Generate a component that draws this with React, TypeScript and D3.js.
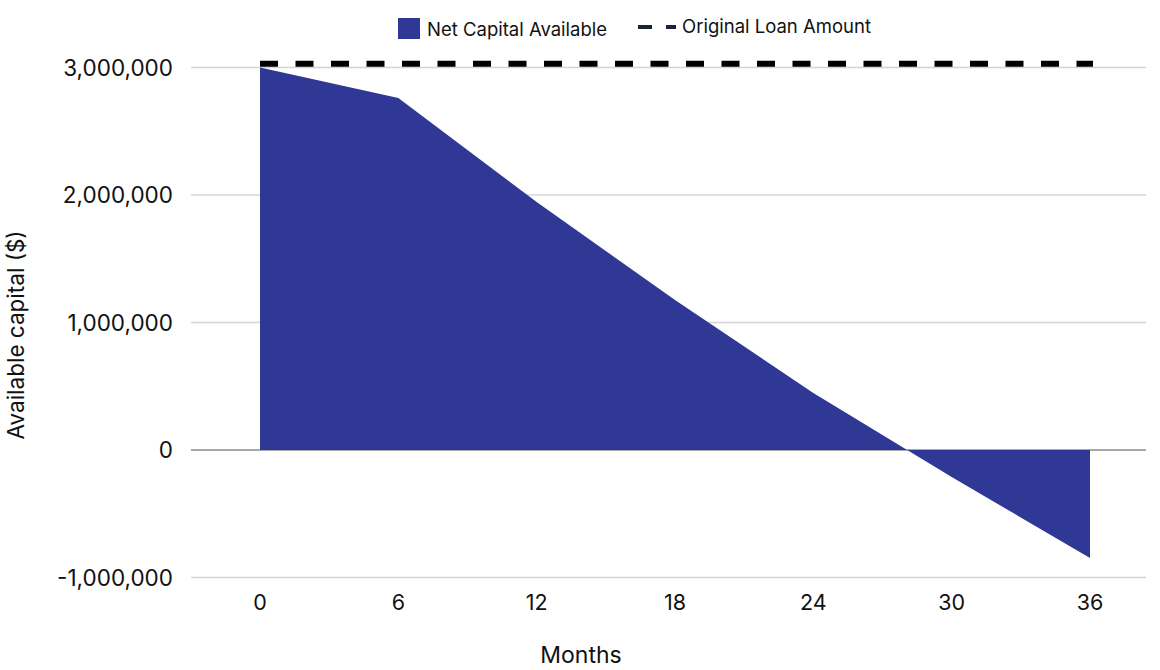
import { useEffect } from 'react'
import * as d3 from 'd3'

// Data
const months = [0, 6, 12, 18, 24, 30, 36]
const netCapital = [3000000, 2760000, 1945000, 1176000, 447000, -212000, -847000]
const originalLoan = 3030000
const xTicks = [0, 6, 12, 18, 24, 30, 36]
const yTicks = [-1000000, 0, 1000000, 2000000, 3000000]

const FONT = 'Inter, "Noto Sans", sans-serif'
const AREA_COLOR = '#303896'

const W = 1160
const H = 670

export default function App() {
  useEffect(() => {
    document.body.style.margin = '0'
  }, [])

  const x = d3.scaleLinear().domain([0, 36]).range([260, 1090])
  const y = d3.scaleLinear().domain([-1000000, 3000000]).range([577.5, 67.5])

  const pts = months.map((m, i) => ({ m, v: netCapital[i] }))

  const area = d3.area<{ m: number; v: number }>()
    .x(d => x(d.m))
    .y0(y(0))
    .y1(d => y(d.v))

  // plain hyphen for negatives, like the reference
  const fmt = (v: number) => d3.format(',')(v).replace('\u2212', '-')
  const gridLeft = 191
  const gridRight = 1146

  return (
    <svg width={W} height={H} style={{ display: 'block', fontFamily: FONT }}>
      {/* gridlines */}
      {yTicks.map(t => (
        <line key={t}
          x1={gridLeft} x2={gridRight}
          y1={y(t)} y2={y(t)}
          stroke={t === 0 ? '#8a8a8a' : '#d4d4d4'}
          strokeWidth={1.5}
        />
      ))}

      {/* area */}
      <path d={area(pts) || ''} fill={AREA_COLOR} />

      {/* original loan amount */}
      <line
        x1={x(0)} x2={x(36) + 3}
        y1={y(originalLoan)} y2={y(originalLoan)}
        stroke="#000" strokeWidth={6}
        strokeDasharray="18 17.5"
      />

      {/* y tick labels */}
      {yTicks.map(t => (
        <text key={t} x={173} y={y(t)} dy="0.36em"
          textAnchor="end" fontSize={22.5} fill="#111">
          {fmt(t)}
        </text>
      ))}

      {/* x tick labels */}
      {xTicks.map(t => (
        <text key={t} x={x(t)} y={610}
          textAnchor="middle" fontSize={21.5} fill="#111">
          {t}
        </text>
      ))}

      {/* axis titles */}
      <text x={581} y={663} textAnchor="middle" fontSize={23} fill="#111">Months</text>
      <text transform="translate(24,335) rotate(-90)" textAnchor="middle" fontSize={22.5} fill="#111">
        Available capital ($)
      </text>

      {/* legend */}
      <rect x={398} y={18} width={22} height={21} fill={AREA_COLOR} />
      <text x={427} y={35.5} fontSize={18.5} fill="#111">Net Capital Available</text>
      <line x1={638} x2={676} y1={27} y2={27} stroke="#1b2336" strokeWidth={4} strokeDasharray="14 14" />
      <text x={682} y={33} fontSize={18.5} fill="#111">Original Loan Amount</text>
    </svg>
  )
}
